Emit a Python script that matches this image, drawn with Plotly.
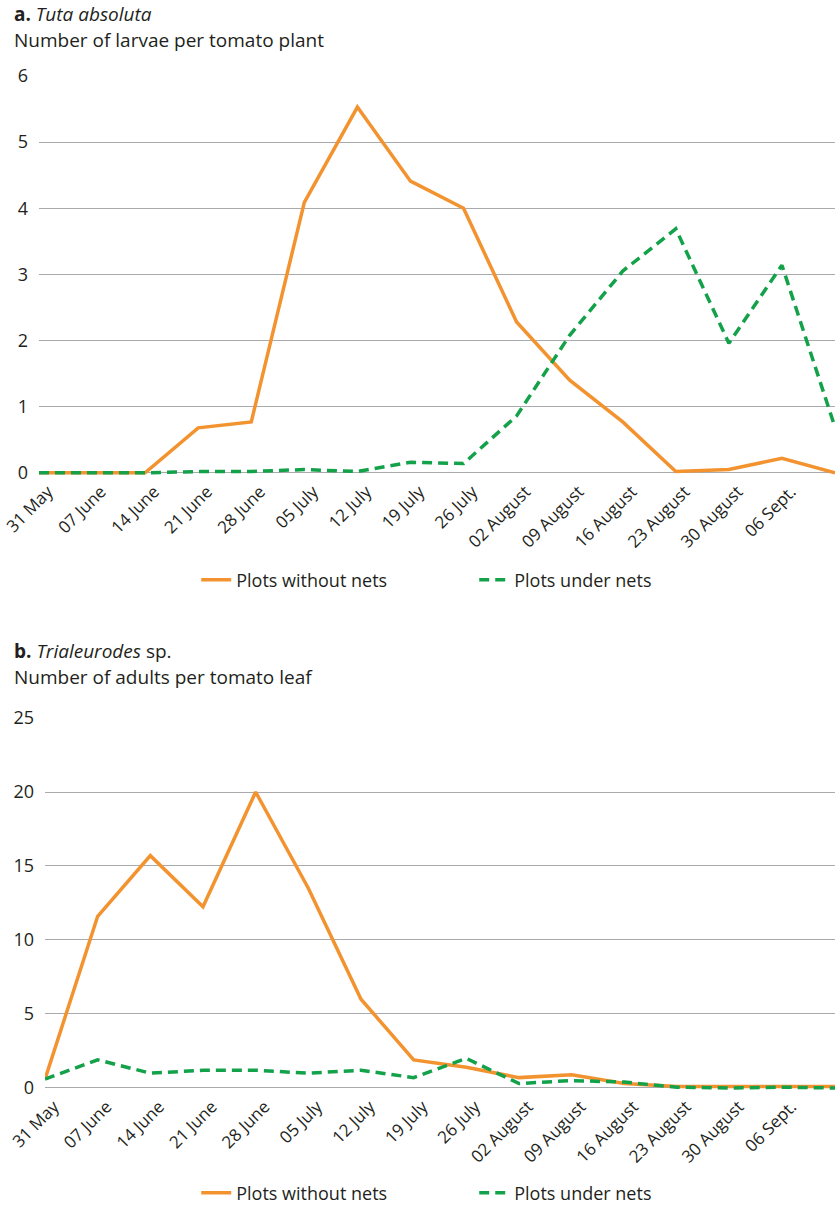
import plotly.graph_objects as go

# Sampling dates (weekly); the last date carries no tick label
dates = ["31 May", "07 June", "14 June", "21 June", "28 June", "05 July", "12 July",
         "19 July", "26 July", "02 August", "09 August", "16 August", "23 August",
         "30 August", "06 Sept.", "13 Sept."]
tick_labels = dates[:15]

# a. Tuta absoluta - larvae per tomato plant
tuta_without = [0, 0, 0, 0.68, 0.77, 4.09, 5.53, 4.41, 4.0, 2.28, 1.4, 0.77, 0.02, 0.05, 0.22, 0]
tuta_under = [0, 0, 0, 0.02, 0.02, 0.05, 0.02, 0.16, 0.14, 0.86, 2.08, 3.05, 3.69, 1.96, 3.14, 0.69]

# b. Trialeurodes sp. - adults per tomato leaf
trial_without = [0.6, 11.6, 15.7, 12.25, 20.0, 13.5, 6.0, 1.9, 1.4, 0.7, 0.9, 0.3, 0.1, 0.1, 0.1, 0.1]
trial_under = [0.6, 1.9, 1.0, 1.2, 1.2, 1.0, 1.2, 0.7, 2.0, 0.3, 0.5, 0.4, 0.05, 0.0, 0.05, 0.0]

W, H = 835, 1205
ORANGE = "#F39330"
GREEN = "#13A14A"
GRID = "#A9AAAD"
TXT = "#231F20"
FONT = "Open Sans"


def py(pix):
    """Convert a pixel row (from top) to paper coordinates."""
    return 1 - pix / H


fig = go.Figure()

series = [
    ("x", "y", tuta_without, tuta_under, "legend"),
    ("x2", "y2", trial_without, trial_under, "legend2"),
]
for xa, ya, without, under, leg in series:
    fig.add_trace(go.Scatter(
        x=dates, y=without, xaxis=xa, yaxis=ya, mode="lines",
        name="Plots without nets", legend=leg, cliponaxis=False,
        line=dict(color=ORANGE, width=3.5),
    ))
    fig.add_trace(go.Scatter(
        x=dates, y=under, xaxis=xa, yaxis=ya, mode="lines",
        name="Plots under nets", legend=leg, cliponaxis=False,
        line=dict(color=GREEN, width=3.5, dash="10px,6px"),
    ))

xaxis_common = dict(
    type="category", range=[0, len(dates) - 1], tickmode="array",
    tickvals=tick_labels, ticktext=tick_labels, tickangle=-45,
    ticklabelshift=9, ticklabelstandoff=2,
    showgrid=False, zeroline=False, showline=False, ticks="",
    tickfont=dict(family=FONT, size=17, color=TXT), fixedrange=True,
    automargin=False,
)
yaxis_common = dict(
    showgrid=True, gridcolor=GRID, gridwidth=1.3, zeroline=False,
    showline=False, ticks="", tickfont=dict(family=FONT, size=18, color=TXT),
    ticklabelstandoff=10, fixedrange=True, automargin=False,
)

legend_common = dict(
    orientation="h", x=0.235, xanchor="left", yanchor="middle",
    font=dict(family=FONT, size=18, color=TXT),
    entrywidth=233, entrywidthmode="pixels",
)

fig.update_layout(
    width=W, height=H,
    margin=dict(l=0, r=0, t=0, b=0, autoexpand=False),
    paper_bgcolor="white", plot_bgcolor="white",
    font=dict(family=FONT, color=TXT),
    xaxis=dict(xaxis_common, domain=[39 / W, 1], anchor="y"),
    yaxis=dict(yaxis_common, domain=[py(475.5), py(76)], range=[-0.04, 6],
               tickvals=[0, 1, 2, 3, 4, 5, 6], anchor="x"),
    xaxis2=dict(xaxis_common, domain=[45 / W, 1], anchor="y2"),
    yaxis2=dict(yaxis_common, domain=[py(1090.5), py(718)], range=[-0.17, 25],
                tickvals=[0, 5, 10, 15, 20, 25], anchor="x2"),
    legend=dict(legend_common, y=py(580)),
    legend2=dict(legend_common, y=py(1193)),
    showlegend=True,
)

titles = [
    (14, "<b>a.</b> <i>Tuta absoluta</i>"),
    (40, "Number of larvae per tomato plant"),
    (651, "<b>b.</b> <i>Trialeurodes</i> sp."),
    (677, "Number of adults per tomato leaf"),
]
for ypix, text in titles:
    fig.add_annotation(
        text=text, xref="paper", yref="paper", x=12 / W, y=py(ypix),
        xanchor="left", yanchor="middle", showarrow=False,
        font=dict(family=FONT, size=19, color=TXT),
    )

fig.write_html("out.html")
